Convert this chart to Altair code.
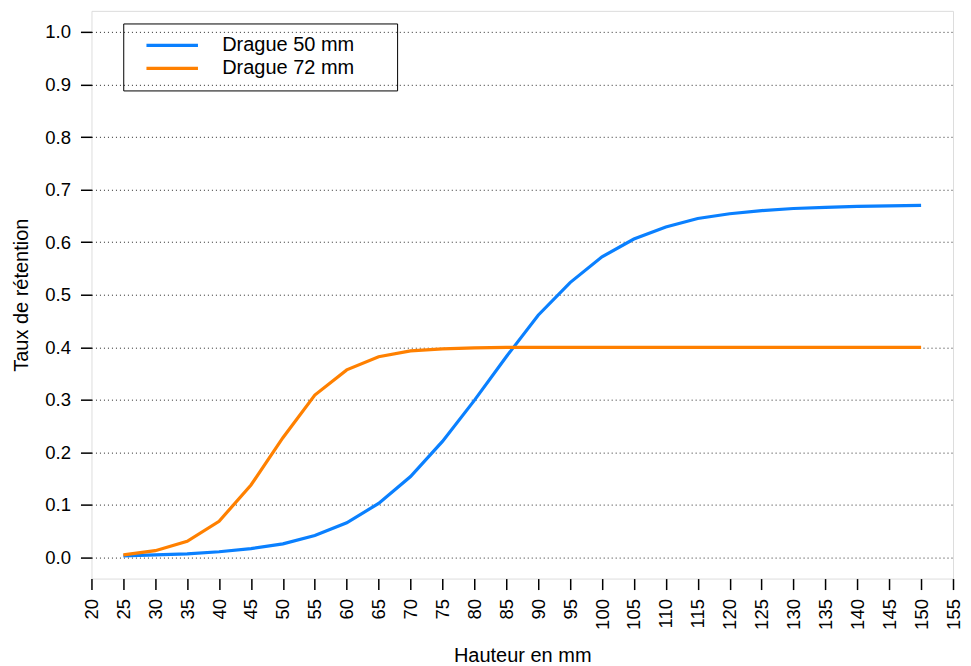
import altair as alt
import pandas as pd

hauteur = [25, 30, 35, 40, 45, 50, 55, 60, 65, 70, 75, 80, 85, 90, 95, 100,
           105, 110, 115, 120, 125, 130, 135, 140, 145, 150]
drague_50 = [0.003, 0.005, 0.007, 0.011, 0.017, 0.026, 0.042, 0.066, 0.103, 0.154,
             0.221, 0.299, 0.382, 0.461, 0.523, 0.572, 0.606, 0.629, 0.645, 0.654,
             0.660, 0.664, 0.666, 0.668, 0.669, 0.670]
drague_72 = [0.005, 0.013, 0.031, 0.069, 0.138, 0.228, 0.309, 0.357, 0.382, 0.393,
             0.397, 0.399, 0.400, 0.400, 0.400, 0.400, 0.400, 0.400, 0.400, 0.400,
             0.400, 0.400, 0.400, 0.400, 0.400, 0.400]
series_names = ["Drague 50 mm", "Drague 72 mm"]
series_colors = ["#0A80FF", "#FF8000"]
x_ticks = list(range(20, 156, 5))
y_ticks = [round(i / 10, 1) for i in range(11)]

rows = []
for name, vals in zip(series_names, [drague_50, drague_72]):
    for h, v in zip(hauteur, vals):
        rows.append({"Hauteur": h, "Taux": v, "Série": name})
df = pd.DataFrame(rows)

FONT = "Liberation Sans"
PAD_CHARS = "\u2800" * 2

chart = alt.Chart(df).mark_line(strokeWidth=3.2).encode(
    x=alt.X("Hauteur:Q",
            scale=alt.Scale(domain=[20, 155], nice=False, zero=False),
            axis=alt.Axis(values=x_ticks, title="Hauteur en mm", labelAngle=270,
                          labelAlign="right", labelBaseline="middle",
                          grid=False, domain=False, tickSize=11, tickWidth=1.5,
                          tickColor="black", labelPadding=9, labelFontSize=18.5,
                          labelFont=FONT, labelColor="black", titleFont=FONT,
                          titleFontSize=20, titleFontWeight="normal",
                          titleColor="black", titlePadding=16)),
    y=alt.Y("Taux:Q",
            scale=alt.Scale(domain=[-0.04, 1.04], nice=False, zero=False),
            axis=alt.Axis(values=y_ticks, format=".1f", title="Taux de rétention",
                          grid=True, gridColor="black", gridDash=[1, 3],
                          gridWidth=1, gridOpacity=0.85, domain=False, tickSize=11,
                          tickWidth=1.5, tickColor="black", labelPadding=10,
                          labelFontSize=18.5, labelFont=FONT, labelColor="black",
                          titleFont=FONT, titleFontSize=20,
                          titleFontWeight="normal", titleColor="black",
                          titlePadding=13)),
    color=alt.Color("Série:N",
                    scale=alt.Scale(domain=series_names, range=series_colors),
                    legend=alt.Legend(orient="none", legendX=31.8, legendY=12.6,
                                      title=None, symbolType="M-4,0H4",
                                      symbolSize=166, symbolStrokeWidth=3.2,
                                      labelFontSize=20, labelFont=FONT,
                                      labelColor="black", labelOffset=40,
                                      labelLimit=400,
                                      strokeColor="black", padding=12,
                                      symbolOffset=27, rowPadding=3,
                                      labelExpr="datum.label + '" + PAD_CHARS + "'")),
).properties(
    width=862,
    height=568,
    autosize=alt.AutoSizeParams(type="none"),
    padding={"left": 83.5, "top": 2.7, "right": 10, "bottom": 90},
).configure_view(
    stroke="black", strokeWidth=2
).configure(
    background="white"
)

chart.save("out.html", embed_options={"renderer": "svg", "actions": False})
